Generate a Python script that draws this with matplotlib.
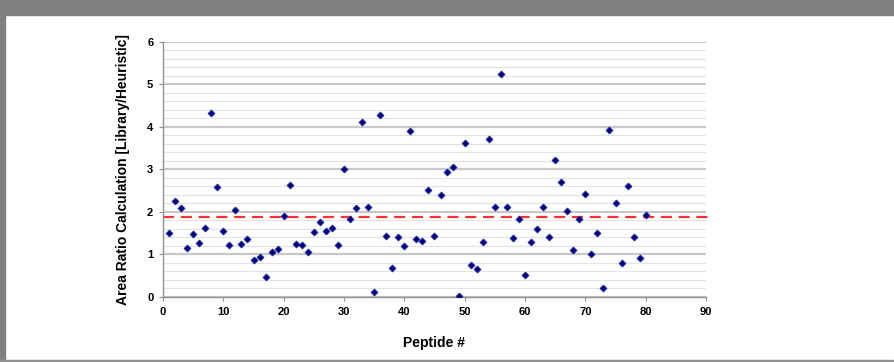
import matplotlib
matplotlib.use("Agg")
import matplotlib.pyplot as plt
from matplotlib.patches import Rectangle
from matplotlib.ticker import MultipleLocator

# Area ratio per peptide
peptide = list(range(1, 81))
ratio = [
    1.51, 2.25, 2.09, 1.14, 1.49, 1.27, 1.61, 4.33, 2.59, 1.54,
    1.21, 2.05, 1.24, 1.36, 0.86, 0.94, 0.48, 1.05, 1.13, 1.90,
    2.64, 1.24, 1.21, 1.05, 1.52, 1.76, 1.55, 1.61, 1.21, 3.00,
    1.83, 2.08, 4.12, 2.11, 0.12, 4.27, 1.43, 0.67, 1.40, 1.20,
    3.90, 1.36, 1.32, 2.52, 1.44, 2.39, 2.93, 3.05, 0.02, 3.62,
    0.74, 0.65, 1.30, 3.72, 2.11, 5.23, 2.11, 1.39, 1.82, 0.51,
    1.30, 1.60, 2.11, 1.40, 3.22, 2.71, 2.01, 1.11, 1.82, 2.41,
    1.00, 1.50, 0.21, 3.92, 2.20, 0.81, 2.60, 1.40, 0.91, 1.92,
]
mean_ratio = 1.89
x_ticks = [0, 10, 20, 30, 40, 50, 60, 70, 80, 90]
y_ticks = [0, 1, 2, 3, 4, 5, 6]

plt.rcParams["font.family"] = ["Liberation Sans", "DejaVu Sans"]

fig = plt.figure(figsize=(8.94, 3.62), dpi=100)

# grey window frame around the white chart area
fig.patches.append(Rectangle((0, 1 - 15 / 362), 1, 15 / 362,
                             transform=fig.transFigure, color="#808080", zorder=0))
fig.patches.append(Rectangle((0, 0), 5 / 894, 1,
                             transform=fig.transFigure, color="#808080", zorder=0))
fig.patches.append(Rectangle((0, 0), 893 / 894, 2 / 362,
                             transform=fig.transFigure, color="#909090", zorder=0))

ax = fig.add_axes([163 / 894, 65 / 362, 543 / 894, 255.5 / 362])
ax.set_xlim(0, 90)
ax.set_ylim(0, 6)

ax.yaxis.set_minor_locator(MultipleLocator(0.2))
ax.grid(which="major", axis="y", color="#c8c8c8", linewidth=1.6, zorder=1)
ax.grid(which="minor", axis="y", color="#e2e2e2", linewidth=0.8, zorder=1)
ax.tick_params(which="minor", left=False)

# dashed mean line, runs a little past the plot area as in the original
ax.plot([0, 91], [mean_ratio, mean_ratio], color="#ff3030",
        linestyle=(0, (5, 3)), linewidth=1.6, zorder=2, clip_on=False)

ax.scatter(peptide, ratio, marker="D", s=13, color="#000080",
           edgecolors="#2030a0", linewidths=0.5, zorder=3)

for side in ["top", "right"]:
    ax.spines[side].set_visible(False)
for side in ["left", "bottom"]:
    ax.spines[side].set_color("#909090")
    ax.spines[side].set_linewidth(1.0)

ax.set_xticks(x_ticks)
ax.set_yticks(y_ticks)
ax.tick_params(axis="both", direction="out", length=3, color="#909090",
               labelsize=8, pad=4)
for lbl in ax.get_xticklabels() + ax.get_yticklabels():
    lbl.set_fontweight("bold")

ax.set_xlabel("Peptide #", fontsize=10, fontweight="bold", labelpad=14)
ax.set_ylabel("Area Ratio Calculation [Library/Heuristic]", fontsize=10,
              fontweight="bold", labelpad=12)

fig.savefig("out.png", dpi=100, facecolor="white")
